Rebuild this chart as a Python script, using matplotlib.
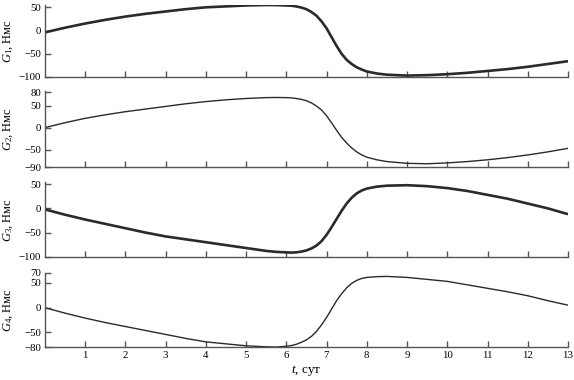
import matplotlib
matplotlib.use("Agg")
import matplotlib.pyplot as plt

# ---- data ----
t = [0, 0.5, 1, 1.5, 2, 2.5, 3, 3.5, 4, 4.5, 5, 5.5, 5.75,
     6.0, 6.125, 6.25, 6.375, 6.5, 6.625, 6.75, 6.875,
     7.0, 7.125, 7.25, 7.375, 7.5, 7.625, 7.75, 7.875,
     8.0, 8.25, 8.5, 9.0, 9.5, 10, 10.5, 11, 11.5, 12, 12.5, 13]

G1 = [-4, 6, 15, 23, 30, 36, 41, 46, 50, 52, 54, 55, 54.8,
      54, 53.5, 52, 49.5, 46, 40, 32, 20,
      5, -14, -33, -50, -63, -72, -79, -84,
      -88, -92.5, -95, -97, -96, -94, -91, -87, -83, -78, -72, -66]

G2 = [0, 11, 21, 29, 36, 42, 48, 54, 59, 63, 66, 68, 68.3,
      68, 67.5, 66, 64, 61, 56, 49, 40,
      27, 11, -6, -22, -35, -46, -55, -62,
      -67, -73, -77, -81, -82, -80, -77, -73, -68, -62, -55, -47]

G3 = [-2, -13, -23, -32, -41, -50, -58, -64, -70, -76, -82, -88, -90,
      -91, -91.5, -91, -89.5, -87, -83, -77, -68,
      -55, -39, -22, -5, 10, 22, 31, 37,
      41, 45, 47, 48, 46, 42, 36, 28, 20, 10, 0, -12]

G4 = [0, -11, -21, -30, -38, -46, -54, -62, -69, -73, -77, -79, -79.5,
      -78, -76.5, -74, -70, -65, -58, -48, -35,
      -20, -3, 14, 28, 40, 49, 55, 59,
      61, 62.5, 63, 61, 57, 53, 46, 39, 32, 24, 14, 5]

series = [G1, G2, G3, G4]
ylabels = [r"$G_1$, Нмс", r"$G_2$, Нмс", r"$G_3$, Нмс", r"$G_4$, Нмс"]
yticks = [[-100, -50, 0, 50], [-90, -50, 0, 50, 80], [-100, -50, 0, 50], [-80, -50, 0, 50, 70]]
ylims = [(-100, 55), (-90, 83), (-100, 54), (-80, 70.5)]
xticks = list(range(1, 14))

plt.rcParams['font.family'] = ['Liberation Serif', 'DejaVu Serif']
plt.rcParams['mathtext.fontset'] = 'custom'
plt.rcParams['mathtext.rm'] = 'Liberation Serif'
plt.rcParams['mathtext.it'] = 'Liberation Serif:italic'
plt.rcParams['axes.unicode_minus'] = True

fig = plt.figure(figsize=(5.74, 3.80), dpi=100)
W, H = 574.0, 380.0
left = 44.75 / W
width = (568.0 - 44.75) / W
panels_px = [(5.0, 77.0), (91.0, 167.3), (182.3, 256.7), (272.7, 347.3)]
lws = [1.9, 1.0, 1.9, 1.0]
col = '#2a2a2a'
spine_col = '#555555'

for i, (top, bot) in enumerate(panels_px):
    ax = fig.add_axes([left, 1 - bot / H, width, (bot - top) / H])
    ax.plot(t, series[i], color=col, lw=lws[i], solid_capstyle='butt',
            solid_joinstyle='round')
    ax.set_xlim(0, 13)
    ax.set_ylim(*ylims[i])
    ax.set_yticks(yticks[i])
    ax.set_xticks(xticks)
    for s in ['top', 'right']:
        ax.spines[s].set_visible(False)
    for s in ['left', 'bottom']:
        ax.spines[s].set_color(spine_col)
        ax.spines[s].set_linewidth(1.0)
    ax.tick_params(direction='in', length=4, width=1.0, color=spine_col,
                   labelsize=7.8, pad=2.5)
    if i < 3:
        ax.tick_params(axis='x', labelbottom=False)
    ax.set_ylabel(ylabels[i], fontsize=9)
    ax.yaxis.set_label_coords(-0.056, 0.5)
    if i == 3:
        ax.set_xlabel(r"$t$, сут", fontsize=9.5, labelpad=2)

fig.savefig("out.png", dpi=100)
